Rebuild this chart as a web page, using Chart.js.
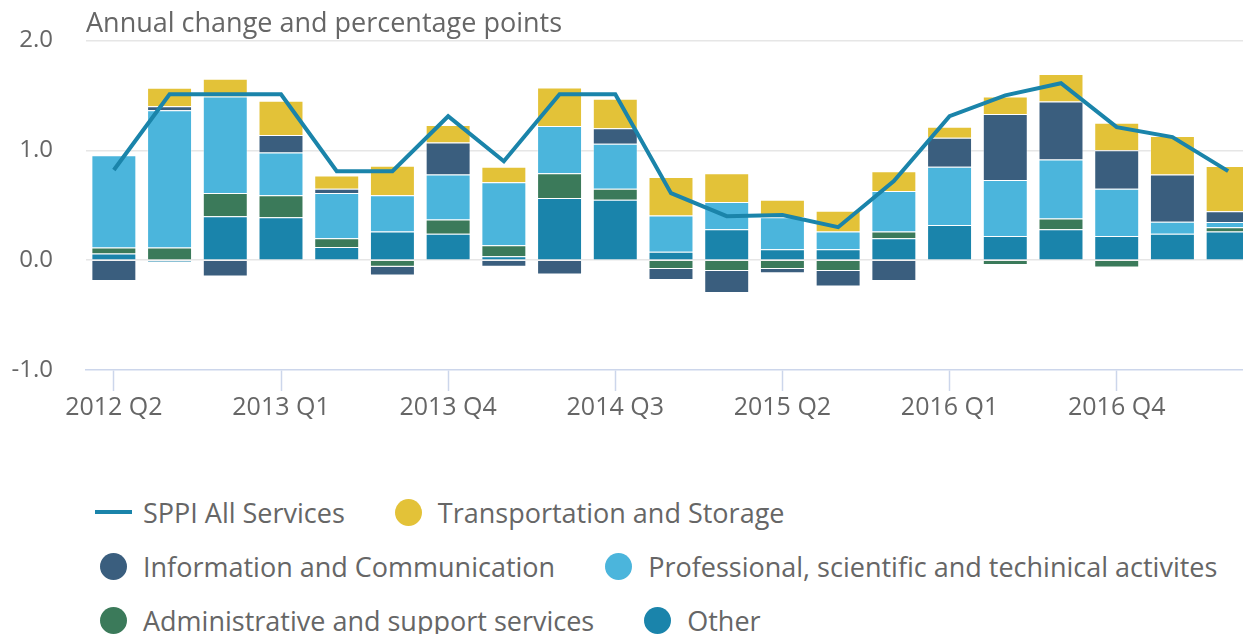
<!DOCTYPE html>
<html>
<head>
<meta charset="utf-8">
<script src="https://cdn.jsdelivr.net/npm/chart.js@4/dist/chart.umd.min.js"></script>
<style>
  html, body { margin: 0; padding: 0; background: #fff; overflow: hidden; }
  body { width: 1243px; height: 634px; position: relative; font-family: "Open Sans", sans-serif; }
  #wrap { position: absolute; left: 0; top: 0; width: 1258px; height: 440px; }
  #legend { position: absolute; left: 95px; top: 485px; color: #666; font-size: 27px; }
  .row { display: flex; align-items: center; height: 54px; gap: 45px; }
  .item { display: flex; align-items: center; white-space: nowrap; }
  .sym { width: 37px; height: 27px; display: flex; align-items: center; justify-content: center; margin-right: 11px; }
  .dot { width: 27px; height: 27px; border-radius: 50%; }
  .bar { width: 37px; height: 4px; }
</style>
</head>
<body>
<div id="wrap"><canvas id="sppi-chart"></canvas></div>
<div id="legend"></div>
<script>
/* SPPI contributions to annual change, 2012 Q2 - 2017 Q2 */

const quarters = ['2012 Q2', '2012 Q3', '2012 Q4', '2013 Q1', '2013 Q2', '2013 Q3', '2013 Q4',
  '2014 Q1', '2014 Q2', '2014 Q3', '2014 Q4', '2015 Q1', '2015 Q2', '2015 Q3', '2015 Q4',
  '2016 Q1', '2016 Q2', '2016 Q3', '2016 Q4', '2017 Q1', '2017 Q2'];

const allServices = [0.82, 1.51, 1.51, 1.51, 0.81, 0.81, 1.31, 0.90, 1.51, 1.51, 0.61,
  0.40, 0.41, 0.30, 0.72, 1.31, 1.50, 1.61, 1.21, 1.12, 0.81];
const other = [0.06, -0.02, 0.40, 0.39, 0.12, 0.26, 0.24, 0.035, 0.566, 0.55, 0.076,
  0.28, 0.10, 0.10, 0.20, 0.32, 0.22, 0.28, 0.22, 0.24, 0.26];
const admin = [0.055, 0.115, 0.21, 0.20, 0.08, -0.06, 0.13, 0.10, 0.225, 0.10, -0.08,
  -0.10, -0.08, -0.10, 0.06, 0, -0.045, 0.10, -0.067, 0, 0.04];
const professional = [0.84, 1.25, 0.88, 0.39, 0.41, 0.33, 0.41, 0.575, 0.43, 0.41, 0.33,
  0.25, 0.29, 0.16, 0.37, 0.53, 0.51, 0.535, 0.43, 0.11, 0.046];
const information = [-0.19, 0.035, -0.15, 0.16, 0.04, -0.08, 0.29, -0.06, -0.13, 0.14, -0.10,
  -0.20, -0.04, -0.14, -0.19, 0.265, 0.60, 0.53, 0.35, 0.43, 0.10];
const transport = [0, 0.17, 0.16, 0.31, 0.12, 0.27, 0.16, 0.14, 0.35, 0.27, 0.35,
  0.26, 0.16, 0.19, 0.18, 0.10, 0.16, 0.25, 0.25, 0.35, 0.41];

const yTicks = [-1, 0, 1, 2];

const TEXT = '#666666';
const AXIS = '#ccd6eb';

function barSet(label, data, color) {
  return {
    type: 'bar',
    label,
    data,
    backgroundColor: color,
    borderColor: 'rgba(255,255,255,0.35)',
    borderWidth: 1,
    barPercentage: 0.807,
    categoryPercentage: 1,
    order: 1
  };
}

const datasets = [
  {
    type: 'line',
    label: 'SPPI All Services',
    data: allServices,
    borderColor: '#1a84aa',
    backgroundColor: '#1a84aa',
    borderWidth: 4,
    pointRadius: 0,
    tension: 0,
    order: 0
  },
  barSet('Other', other, '#1a84ab'),
  barSet('Administrative and support services', admin, '#3b7a5a'),
  barSet('Professional, scientific and techinical activites', professional, '#4bb5dc'),
  barSet('Information and Communication', information, '#3a5e7e'),
  barSet('Transportation and Storage', transport, '#e3c238')
];

const chart = new Chart(document.getElementById('sppi-chart').getContext('2d'), {
  data: { labels: quarters, datasets },
  options: {
    responsive: true,
    maintainAspectRatio: false,
    animation: false,
    layout: { padding: { left: 11, right: 2, top: 0, bottom: 15 } },
    plugins: {
      legend: { display: false },
      tooltip: { enabled: false },
      title: {
        display: true,
        text: 'Annual change and percentage points',
        align: 'start',
        fullSize: false,
        color: TEXT,
        font: { family: 'Open Sans', size: 27, weight: 'normal' },
        padding: { top: 8, bottom: 0 }
      }
    },
    scales: {
      x: {
        stacked: true,
        offset: true,
        grid: {
          display: true,
          offset: false,
          drawOnChartArea: false,
          drawTicks: true,
          tickLength: 21,
          tickWidth: 1.5,
          tickColor: ctx => ctx.index % 3 === 0 ? AXIS : 'rgba(0,0,0,0)'
        },
        border: { display: true, color: AXIS, width: 1.5 },
        ticks: {
          autoSkip: false,
          maxRotation: 0,
          padding: 2,
          color: TEXT,
          font: { family: 'Open Sans', size: 25 },
          callback: (v, i) => i % 3 === 0 ? quarters[i] : ''
        }
      },
      y: {
        stacked: true,
        min: yTicks[0],
        max: yTicks[yTicks.length - 1],
        afterBuildTicks: axis => { axis.ticks = yTicks.map(v => ({ value: v })); },
        afterFit: axis => { axis.width = 75; },
        grid: {
          drawTicks: false,
          lineWidth: 1.5,
          color: ctx => ctx.tick && ctx.tick.value === -1 ? 'rgba(0,0,0,0)' : '#e6e6e6'
        },
        border: { display: false },
        ticks: {
          padding: 33,
          color: TEXT,
          font: { family: 'Open Sans', size: 24, lineHeight: 0 },
          callback: v => Number(v).toFixed(1)
        }
      }
    }
  }
});

// legend in the reference's order, built from the chart's own datasets
const legendRows = [
  ['SPPI All Services', 'Transportation and Storage'],
  ['Information and Communication', 'Professional, scientific and techinical activites'],
  ['Administrative and support services', 'Other']
];

const legendEl = document.getElementById('legend');
legendRows.forEach(names => {
  const row = document.createElement('div');
  row.className = 'row';
  names.forEach(name => {
    const ds = chart.data.datasets.find(d => d.label === name);
    const item = document.createElement('div');
    item.className = 'item';
    const sym = document.createElement('span');
    sym.className = 'sym';
    const mark = document.createElement('span');
    mark.className = ds.type === 'line' ? 'bar' : 'dot';
    mark.style.background = ds.type === 'line' ? ds.borderColor : ds.backgroundColor;
    sym.appendChild(mark);
    const txt = document.createElement('span');
    txt.textContent = ds.label;
    item.appendChild(sym);
    item.appendChild(txt);
    row.appendChild(item);
  });
  legendEl.appendChild(row);
});
</script>
</body>
</html>
